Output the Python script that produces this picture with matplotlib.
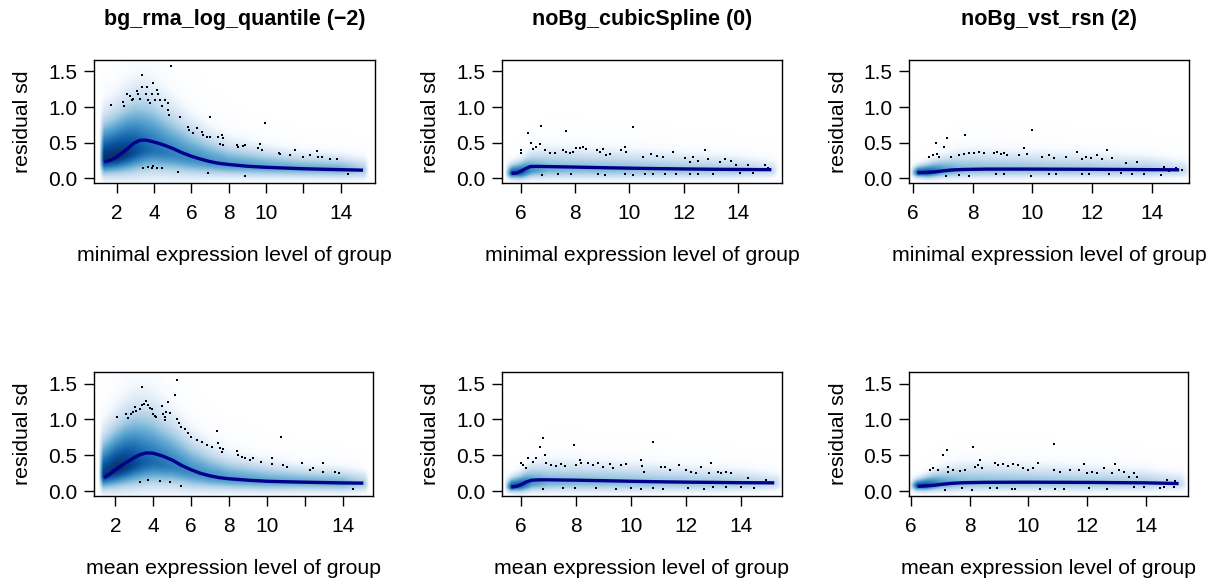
import numpy as np
import matplotlib
matplotlib.use("Agg")
import matplotlib.pyplot as plt
from matplotlib.colors import LinearSegmentedColormap

plt.rcParams['font.family'] = ['Liberation Sans', 'DejaVu Sans']

W, H = 1218, 581

titles = ["bg_rma_log_quantile (\u22122)", "noBg_cubicSpline (0)", "noBg_vst_rsn (2)"]
xlabels = ["minimal expression level of group", "mean expression level of group"]
ylabel = "residual sd"
yticks = [0.0, 0.5, 1.0, 1.5]
yticklabels = ["0.0", "0.5", "1.0", "1.5"]
xticks_bg = [2, 4, 6, 8, 10, 12, 14]
xticklabels_bg = ["2", "4", "6", "8", "10", "", "14"]
xticks_nobg = [6, 8, 10, 12, 14]
xticklabels_nobg = ["6", "8", "10", "12", "14"]

# ---- trend lines ----
lx1 = [1.34, 1.7, 2.0, 2.3, 2.6, 2.9, 3.25, 3.6, 4.0, 4.5, 5.0, 5.5, 6.0, 6.5, 7.0, 7.5, 8.0, 9.0, 10.0, 11.0, 12.0, 13.0, 14.0, 15.2]
ly1 = [0.23, 0.26, 0.30, 0.36, 0.42, 0.49, 0.535, 0.535, 0.51, 0.47, 0.42, 0.36, 0.31, 0.27, 0.235, 0.21, 0.195, 0.17, 0.155, 0.145, 0.135, 0.128, 0.122, 0.115]
lx2 = [5.66, 5.85, 6.0, 6.2, 6.35, 6.6, 7.0, 8.0, 9.0, 10.0, 11.0, 12.0, 13.0, 14.0, 15.23]
ly2 = [0.07, 0.075, 0.10, 0.14, 0.165, 0.168, 0.165, 0.158, 0.15, 0.143, 0.137, 0.132, 0.128, 0.125, 0.122]
lx3 = [6.15, 6.4, 6.7, 7.0, 7.3, 7.7, 8.5, 10.0, 12.0, 14.0, 14.92]
ly3 = [0.08, 0.082, 0.09, 0.105, 0.118, 0.125, 0.13, 0.13, 0.127, 0.122, 0.12]
lx4 = [1.40, 1.7, 2.0, 2.5, 3.0, 3.3, 3.64, 4.0, 4.5, 5.0, 5.5, 6.0, 6.5, 7.0, 7.5, 8.0, 9.0, 10.0, 11.0, 12.0, 13.0, 14.0, 15.1]
ly4 = [0.19, 0.24, 0.30, 0.39, 0.47, 0.51, 0.535, 0.53, 0.49, 0.435, 0.36, 0.30, 0.25, 0.215, 0.19, 0.175, 0.155, 0.14, 0.133, 0.127, 0.122, 0.117, 0.114]
lx5 = [5.66, 5.85, 6.0, 6.2, 6.4, 6.7, 7.0, 8.0, 9.0, 10.0, 11.0, 12.0, 13.0, 14.0, 15.2]
ly5 = [0.06, 0.07, 0.09, 0.13, 0.155, 0.16, 0.16, 0.155, 0.148, 0.14, 0.133, 0.128, 0.124, 0.12, 0.118]
lx6 = [6.24, 6.5, 6.8, 7.1, 7.4, 7.8, 8.5, 10.0, 12.0, 14.0, 15.1]
ly6 = [0.07, 0.075, 0.085, 0.10, 0.112, 0.12, 0.125, 0.127, 0.124, 0.118, 0.108]

# ---- outlying points ----
px1 = [1.68, 2.36, 2.39, 2.54, 2.71, 2.8, 2.89, 3.07, 3.16, 3.25, 3.34, 3.34, 3.61, 3.55, 3.7, 3.79, 3.93, 3.88, 4.05, 4.14, 4.23, 4.32, 4.41, 4.59, 4.77, 4.77, 4.82, 4.91, 5.39, 5.84, 5.89, 6.11, 6.29, 6.55, 6.64, 7.0, 6.82, 7.0, 7.45, 7.63, 7.68, 7.54, 7.68, 8.43, 8.52, 8.79, 8.88, 9.55, 9.68, 9.77, 9.95, 10.71, 10.75, 11.29, 11.55, 12.0, 12.36, 12.71, 12.8, 13.0, 13.43, 13.79, 14.41, 3.43, 3.7, 3.88, 3.93, 4.14, 4.41, 5.3, 6.91, 8.88]
py1 = [1.03, 1.07, 1.02, 1.18, 1.15, 1.10, 1.12, 1.23, 1.18, 1.12, 1.45, 1.28, 1.28, 1.19, 1.10, 1.05, 1.34, 1.19, 1.10, 1.24, 1.18, 1.10, 1.02, 1.10, 1.05, 0.96, 0.89, 1.57, 0.86, 0.72, 0.68, 0.63, 0.70, 0.65, 0.61, 0.86, 0.58, 0.58, 0.58, 0.61, 0.56, 0.48, 0.47, 0.47, 0.44, 0.46, 0.47, 0.42, 0.48, 0.40, 0.77, 0.36, 0.34, 0.33, 0.40, 0.30, 0.33, 0.39, 0.30, 0.30, 0.27, 0.27, 0.056, 0.15, 0.16, 0.14, 0.17, 0.15, 0.15, 0.09, 0.07, 0.04]
px2 = [6.02, 6.02, 6.27, 6.39, 6.45, 6.55, 6.70, 6.76, 6.79, 6.88, 7.07, 7.25, 7.37, 7.56, 7.68, 7.80, 7.93, 7.66, 7.84, 8.05, 8.17, 8.29, 8.42, 8.79, 8.91, 9.04, 9.15, 8.85, 9.09, 9.28, 9.71, 9.83, 9.89, 9.83, 10.13, 10.13, 10.5, 10.81, 11.0, 11.24, 10.56, 10.87, 11.3, 11.6, 11.73, 12.04, 12.22, 12.34, 12.53, 12.77, 12.22, 12.53, 13.08, 12.9, 13.33, 13.51, 13.75, 13.94, 14.37, 14.06, 14.55, 14.98, 15.1]
py2 = [0.40, 0.35, 0.63, 0.49, 0.41, 0.44, 0.48, 0.73, 0.05, 0.40, 0.35, 0.36, 0.06, 0.40, 0.37, 0.35, 0.37, 0.67, 0.06, 0.42, 0.43, 0.44, 0.41, 0.40, 0.37, 0.41, 0.33, 0.06, 0.05, 0.34, 0.40, 0.44, 0.37, 0.06, 0.72, 0.05, 0.30, 0.34, 0.31, 0.30, 0.06, 0.06, 0.06, 0.37, 0.06, 0.28, 0.23, 0.30, 0.25, 0.40, 0.06, 0.06, 0.06, 0.27, 0.23, 0.27, 0.25, 0.19, 0.19, 0.07, 0.07, 0.19, 0.15]
px3 = [6.54, 6.67, 6.76, 6.82, 6.87, 7.04, 7.09, 7.15, 7.26, 7.54, 7.88, 7.54, 7.71, 7.88, 8.04, 8.21, 8.38, 7.74, 8.72, 8.83, 8.94, 9.05, 9.16, 8.77, 9.05, 9.55, 9.72, 9.83, 9.94, 9.98, 10.34, 10.56, 10.73, 11.12, 10.56, 10.78, 11.51, 11.68, 11.79, 11.96, 11.65, 11.9, 12.18, 12.35, 12.51, 12.68, 12.57, 12.96, 13.35, 13.13, 13.52, 13.74, 14.30, 14.41, 14.58, 14.8, 15.02]
py3 = [0.30, 0.33, 0.49, 0.34, 0.30, 0.44, 0.03, 0.57, 0.30, 0.05, 0.04, 0.33, 0.34, 0.36, 0.35, 0.37, 0.36, 0.61, 0.35, 0.37, 0.34, 0.36, 0.33, 0.06, 0.06, 0.33, 0.43, 0.34, 0.04, 0.68, 0.30, 0.33, 0.29, 0.30, 0.06, 0.06, 0.37, 0.27, 0.30, 0.28, 0.06, 0.06, 0.33, 0.27, 0.40, 0.28, 0.06, 0.07, 0.06, 0.22, 0.23, 0.06, 0.05, 0.16, 0.11, 0.14, 0.12]
px4 = [2.09, 2.58, 2.67, 2.85, 2.94, 3.02, 3.11, 3.29, 3.38, 3.43, 3.5, 3.64, 3.73, 3.82, 3.91, 4.0, 4.08, 4.17, 4.44, 4.52, 4.61, 4.61, 4.7, 4.79, 4.88, 5.14, 5.28, 5.23, 5.35, 5.49, 5.67, 5.85, 6.02, 6.29, 6.55, 6.82, 7.08, 7.35, 7.43, 7.52, 7.61, 7.7, 8.44, 8.49, 8.67, 8.85, 9.11, 9.29, 9.69, 10.26, 10.26, 10.75, 10.88, 11.05, 11.85, 12.29, 12.46, 12.99, 12.99, 13.61, 13.79, 14.53, 3.29, 3.73, 4.35, 4.88, 5.49]
py4 = [1.03, 1.07, 1.02, 1.07, 1.10, 1.18, 1.12, 1.14, 1.20, 1.45, 1.21, 1.26, 1.20, 1.16, 1.14, 1.08, 1.05, 1.04, 1.19, 1.08, 1.04, 0.99, 1.10, 1.24, 1.09, 1.34, 1.55, 1.01, 0.95, 0.90, 0.87, 0.81, 0.76, 0.72, 0.69, 0.65, 0.62, 0.84, 0.67, 0.60, 0.55, 0.59, 0.56, 0.51, 0.48, 0.47, 0.44, 0.47, 0.41, 0.47, 0.38, 0.76, 0.36, 0.34, 0.39, 0.30, 0.33, 0.39, 0.27, 0.27, 0.26, 0.03, 0.13, 0.16, 0.15, 0.13, 0.08]
px5 = [6.02, 6.08, 6.2, 6.27, 6.45, 6.57, 6.69, 6.83, 6.87, 6.83, 6.93, 7.11, 7.29, 7.47, 7.6, 7.53, 7.93, 7.98, 8.02, 8.14, 8.2, 8.44, 8.62, 8.8, 8.98, 9.23, 8.74, 9.47, 9.35, 9.65, 9.83, 10.0, 10.36, 10.36, 10.42, 10.48, 10.8, 10.8, 11.16, 11.1, 11.22, 11.4, 11.76, 12.0, 12.07, 12.19, 12.37, 12.55, 12.85, 12.91, 13.15, 13.27, 13.46, 12.65, 12.97, 13.46, 13.64, 14.24, 14.0, 14.48, 14.91]
py5 = [0.40, 0.37, 0.33, 0.46, 0.41, 0.46, 0.62, 0.74, 0.50, 0.03, 0.39, 0.37, 0.35, 0.38, 0.35, 0.05, 0.65, 0.04, 0.37, 0.44, 0.39, 0.39, 0.37, 0.40, 0.34, 0.38, 0.05, 0.03, 0.32, 0.37, 0.38, 0.05, 0.03, 0.44, 0.35, 0.27, 0.69, 0.05, 0.03, 0.34, 0.34, 0.30, 0.37, 0.30, 0.05, 0.27, 0.25, 0.34, 0.25, 0.39, 0.27, 0.25, 0.27, 0.03, 0.06, 0.06, 0.25, 0.19, 0.06, 0.05, 0.16]
px6 = [6.66, 6.77, 6.94, 7.08, 7.22, 7.26, 7.28, 7.17, 7.45, 7.68, 7.85, 7.73, 8.07, 8.13, 8.19, 8.3, 8.36, 8.41, 8.87, 8.98, 9.15, 9.32, 9.49, 9.66, 9.83, 10.0, 10.17, 10.34, 8.7, 8.92, 9.43, 9.55, 10.4, 10.91, 11.19, 10.85, 10.85, 11.08, 11.42, 11.7, 11.87, 11.98, 12.15, 12.32, 12.55, 12.83, 12.04, 12.66, 12.95, 13.06, 13.23, 13.40, 13.57, 13.68, 13.57, 13.91, 14.48, 14.59, 14.7, 14.99, 14.93]
py6 = [0.30, 0.32, 0.30, 0.50, 0.57, 0.34, 0.27, 0.02, 0.30, 0.28, 0.30, 0.04, 0.02, 0.61, 0.34, 0.37, 0.43, 0.32, 0.39, 0.37, 0.38, 0.35, 0.38, 0.37, 0.32, 0.30, 0.33, 0.39, 0.05, 0.05, 0.03, 0.03, 0.03, 0.03, 0.03, 0.66, 0.30, 0.27, 0.30, 0.30, 0.38, 0.25, 0.27, 0.25, 0.32, 0.25, 0.05, 0.03, 0.38, 0.30, 0.27, 0.20, 0.26, 0.20, 0.06, 0.06, 0.04, 0.06, 0.16, 0.15, 0.06]

# ---- density (smoothed scatter) profile read per x position ----
# kx: x positions, km: mode of residual sd, klo/khi: spread below/above mode, kp: darkness
kx1 = [1.3, 2.0, 2.5, 3.0, 3.5, 4.0, 5.0, 6.0, 7.0, 8.0, 10.0, 12.0, 14.0, 15.3]
km1 = [0.26, 0.30, 0.34, 0.38, 0.40, 0.40, 0.34, 0.27, 0.22, 0.18, 0.15, 0.13, 0.12, 0.11]
klo1 = [0.13, 0.15, 0.17, 0.19, 0.20, 0.20, 0.18, 0.15, 0.12, 0.10, 0.09, 0.08, 0.08, 0.08]
khi1 = [0.34, 0.38, 0.42, 0.45, 0.46, 0.44, 0.37, 0.30, 0.24, 0.20, 0.16, 0.13, 0.12, 0.11]
kp1 = [1.0, 1.0, 0.95, 0.86, 0.76, 0.70, 0.62, 0.58, 0.55, 0.52, 0.48, 0.45, 0.43, 0.28]

kx2 = [5.65, 6.0, 6.4, 7.0, 8.0, 10.0, 12.0, 14.0, 15.3]
km2 = [0.07, 0.08, 0.11, 0.12, 0.12, 0.115, 0.11, 0.105, 0.10]
klo2 = [0.05, 0.06, 0.07, 0.08, 0.08, 0.08, 0.075, 0.07, 0.06]
khi2 = [0.08, 0.10, 0.15, 0.17, 0.17, 0.16, 0.14, 0.12, 0.10]
kp2 = [0.82, 0.82, 0.55, 0.42, 0.39, 0.36, 0.33, 0.30, 0.20]

kx3 = [6.15, 6.5, 7.0, 7.5, 8.0, 10.0, 12.0, 14.0, 15.1]
km3 = [0.08, 0.08, 0.10, 0.11, 0.115, 0.115, 0.11, 0.105, 0.10]
klo3 = [0.045, 0.05, 0.06, 0.07, 0.07, 0.07, 0.07, 0.065, 0.06]
khi3 = [0.06, 0.08, 0.12, 0.15, 0.16, 0.15, 0.14, 0.12, 0.10]
kp3 = [0.85, 0.85, 0.55, 0.42, 0.38, 0.35, 0.32, 0.30, 0.20]

kx4 = [1.35, 2.0, 2.5, 3.0, 3.5, 4.0, 5.0, 6.0, 7.0, 8.0, 10.0, 12.0, 14.0, 15.2]
km4 = [0.22, 0.29, 0.34, 0.38, 0.40, 0.40, 0.35, 0.26, 0.20, 0.16, 0.13, 0.12, 0.11, 0.10]
klo4 = [0.12, 0.15, 0.17, 0.19, 0.20, 0.20, 0.18, 0.15, 0.12, 0.10, 0.09, 0.08, 0.08, 0.07]
khi4 = [0.32, 0.38, 0.42, 0.45, 0.46, 0.45, 0.38, 0.30, 0.24, 0.20, 0.16, 0.13, 0.12, 0.11]
kp4 = [0.95, 1.0, 0.97, 0.88, 0.78, 0.72, 0.64, 0.58, 0.55, 0.52, 0.48, 0.45, 0.43, 0.28]

kx5 = [5.65, 6.0, 6.4, 7.0, 8.0, 10.0, 12.0, 14.0, 15.3]
km5 = [0.06, 0.08, 0.11, 0.12, 0.12, 0.115, 0.11, 0.105, 0.10]
klo5 = [0.045, 0.06, 0.07, 0.08, 0.08, 0.08, 0.075, 0.07, 0.06]
khi5 = [0.08, 0.10, 0.15, 0.17, 0.17, 0.16, 0.14, 0.12, 0.10]
kp5 = [0.85, 0.82, 0.55, 0.42, 0.39, 0.36, 0.33, 0.30, 0.20]

kx6 = [6.2, 6.5, 7.0, 7.5, 8.0, 10.0, 12.0, 14.0, 15.2]
km6 = [0.075, 0.08, 0.10, 0.11, 0.115, 0.115, 0.11, 0.105, 0.10]
klo6 = [0.045, 0.05, 0.06, 0.07, 0.07, 0.07, 0.07, 0.065, 0.06]
khi6 = [0.06, 0.08, 0.12, 0.15, 0.16, 0.15, 0.14, 0.12, 0.10]
kp6 = [0.85, 0.85, 0.55, 0.42, 0.38, 0.35, 0.32, 0.30, 0.20]

blues9 = ["#F7FBFF", "#DEEBF7", "#C6DBEF", "#9ECAE1", "#6BAED6",
          "#4292C6", "#2171B5", "#08519C", "#08306B"]
cmap = LinearSegmentedColormap.from_list("smooth", ["#FFFFFF"] + blues9)

panels = [
    dict(box=(94, 60, 375, 183), xlim=(0.785, 15.84), xt=xticks_bg, xtl=xticklabels_bg,
         lx=lx1, ly=ly1, px=px1, py=py1, k=(kx1, km1, klo1, khi1, kp1), title=titles[0], xl=xlabels[0]),
    dict(box=(502, 60, 782, 183), xlim=(5.31, 15.62), xt=xticks_nobg, xtl=xticklabels_nobg,
         lx=lx2, ly=ly2, px=px2, py=py2, k=(kx2, km2, klo2, khi2, kp2), title=titles[1], xl=xlabels[0]),
    dict(box=(909, 60, 1189, 183), xlim=(5.866, 15.25), xt=xticks_nobg, xtl=xticklabels_nobg,
         lx=lx3, ly=ly3, px=px3, py=py3, k=(kx3, km3, klo3, khi3, kp3), title=titles[2], xl=xlabels[0]),
    dict(box=(94, 372, 373, 496), xlim=(0.87, 15.61), xt=xticks_bg, xtl=xticklabels_bg,
         lx=lx4, ly=ly4, px=px4, py=py4, k=(kx4, km4, klo4, khi4, kp4), title=None, xl=xlabels[1]),
    dict(box=(502, 372, 782, 496), xlim=(5.325, 15.48), xt=xticks_nobg, xtl=xticklabels_nobg,
         lx=lx5, ly=ly5, px=px5, py=py5, k=(kx5, km5, klo5, khi5, kp5), title=None, xl=xlabels[1]),
    dict(box=(909, 372, 1188, 496), xlim=(5.94, 15.42), xt=xticks_nobg, xtl=xticklabels_nobg,
         lx=lx6, ly=ly6, px=px6, py=py6, k=(kx6, km6, klo6, khi6, kp6), title=None, xl=xlabels[1]),
]

YLIM = (-0.065, 1.66)
FS = 15

fig = plt.figure(figsize=(W / 100, H / 100), dpi=100)

for p in panels:
    l, t, r, b = p['box']
    ax = fig.add_axes([l / W, 1 - b / H, (r - l) / W, (b - t) / H])
    x0, x1 = p['xlim']
    kx, km, klo, khi, kp = p['k']
    gx = np.linspace(x0, x1, 400)
    gy = np.linspace(YLIM[0], YLIM[1], 220)
    m = np.interp(gx, kx, km)
    slo = np.interp(gx, kx, klo)
    shi = np.interp(gx, kx, khi)
    pk = np.interp(gx, kx, kp)
    edge = np.clip((gx - kx[0]) / 0.25 + 1, 0, 1) * np.clip((kx[-1] - gx) / 0.25 + 1, 0, 1)
    Y = gy[:, None]
    d = Y - m[None, :]
    s = np.where(d < 0, slo[None, :], shi[None, :])
    val = pk[None, :] * edge[None, :] * np.exp(-0.6 * np.abs(d / s) ** 1.7)
    val = val ** 0.7
    ax.imshow(val, extent=(x0, x1, YLIM[0], YLIM[1]), origin='lower', aspect='auto',
              cmap=cmap, vmin=0, vmax=1, interpolation='bilinear', zorder=0)
    ax.plot(p['px'], p['py'], linestyle='none', marker='s', markersize=1.7,
            markeredgewidth=0, color='black', zorder=2)
    ax.plot(p['lx'], p['ly'], color='#00008B', linewidth=2.4, solid_capstyle='butt', zorder=3)
    ax.set_xlim(x0, x1)
    ax.set_ylim(*YLIM)
    ax.set_xticks(p['xt'])
    ax.set_xticklabels(p['xtl'], fontsize=FS)
    ax.set_yticks(yticks)
    ax.set_yticklabels(yticklabels, fontsize=FS)
    ax.tick_params(axis='both', direction='out', length=7.2, width=1.0, color='black')
    ax.tick_params(axis='x', pad=8)
    ax.tick_params(axis='y', pad=5)
    for sp in ax.spines.values():
        sp.set_linewidth(1.0)
        sp.set_color('black')
    cx = (l + r) / 2
    fig.text(cx / W, 1 - (b + 78) / H, p['xl'], ha='center', va='baseline', fontsize=15.3)
    fig.text((l - 71) / W, 1 - ((t + b) / 2) / H, ylabel, rotation=90,
             ha='center', va='center', fontsize=15.3)
    if p['title']:
        fig.text(cx / W, 1 - 25 / H, p['title'], ha='center', va='baseline',
                 fontsize=15.5, fontweight='bold')

fig.savefig("out.png", dpi=100)
